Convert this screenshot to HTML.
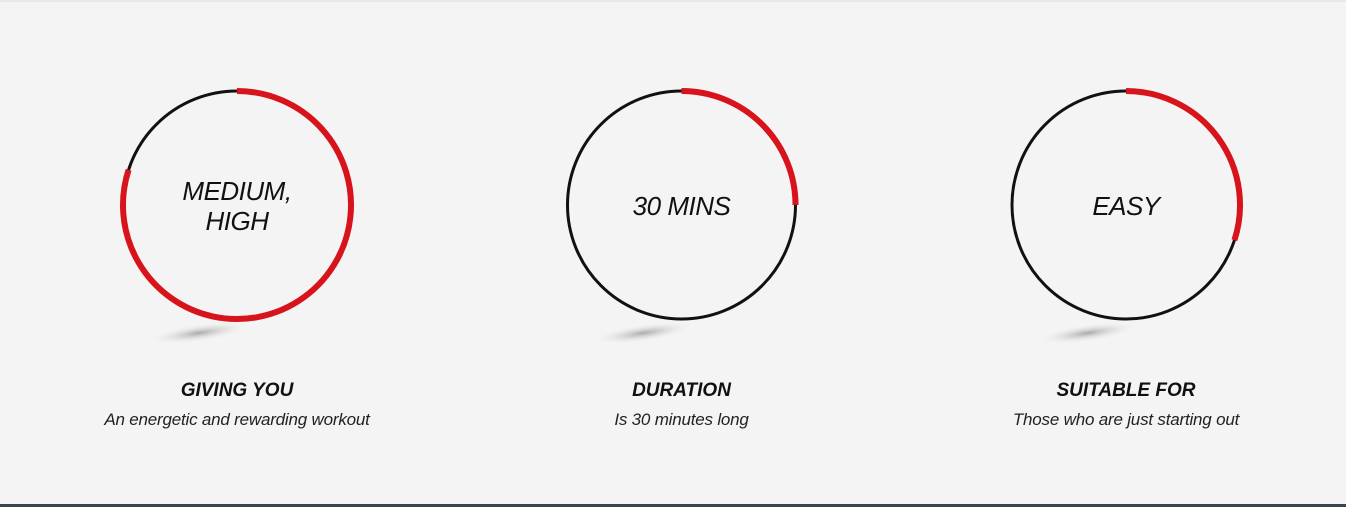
<!DOCTYPE html>
<html><head><meta charset="utf-8">
<style>
body{margin:0;width:1346px;height:507px;background:#f4f4f4;overflow:hidden;font-family:"Liberation Sans",sans-serif}
#wrap{position:relative;width:1346px;height:507px}
.t{position:absolute;text-align:center;font-style:italic;color:#111;width:400px}
.h{font-weight:bold;font-size:19px;top:380px}
.s{font-size:17px;top:410px;color:#222;letter-spacing:-0.2px}
#bar{position:absolute;left:0;bottom:0;width:1346px;height:3px;background:#37474f}
#topl{position:absolute;left:0;top:0;width:1346px;height:2px;background:#e8e8e8}
</style></head><body>
<div id="wrap">
<div id="topl"></div>
<svg id="svg" width="1346" height="507" style="position:absolute;left:0;top:0">
<defs><radialGradient id="sh"><stop offset="0" stop-color="#aaa"/><stop offset="1" stop-color="#f4f4f4" stop-opacity="0"/></radialGradient></defs>
</svg>
<div id="bar"></div>
</div>
<script>
const categories=["GIVING YOU","DURATION","SUITABLE FOR"];
const centerLabels=[["MEDIUM,","HIGH"],["30 MINS"],["EASY"]];
const descriptions=["An energetic and rewarding workout","Is 30 minutes long","Those who are just starting out"];
const values=[0.80,0.25,0.30];
const svg=document.getElementById('svg');const wrap=document.getElementById('wrap');
const NS="http://www.w3.org/2000/svg";
const cx=i=>237+i*444.5, cy=205, R=114;
function pt(f,i){const a=f*2*Math.PI;return [cx(i)+R*Math.sin(a),cy-R*Math.cos(a)];}
values.forEach((v,i)=>{
 const sh=document.createElementNS(NS,'ellipse');
 
 
 sh.setAttribute('cx',cx(i)-38);sh.setAttribute('cy',333);sh.setAttribute('rx',52);sh.setAttribute('ry',9);
 sh.setAttribute('fill','url(#sh)');sh.setAttribute('transform',`rotate(-8 ${cx(i)-38} 333)`);svg.appendChild(sh);
 const c=document.createElementNS(NS,'circle');
 
 
 c.setAttribute('cx',cx(i));c.setAttribute('cy',cy);c.setAttribute('r',R);c.setAttribute('fill','none');c.setAttribute('stroke','#111');c.setAttribute('stroke-width',3);svg.appendChild(c);
 const [x1,y1]=pt(0,i),[x2,y2]=pt(v,i);
 const p=document.createElementNS(NS,'path');
 
 
 p.setAttribute('d',`M${x1} ${y1} A${R} ${R} 0 ${v>0.5?1:0} 1 ${x2} ${y2}`);
 p.setAttribute('fill','none');p.setAttribute('stroke','#d7141c');p.setAttribute('stroke-width',6);svg.appendChild(p);
 const lines=centerLabels[i];
 lines.forEach((l,j)=>{const t=document.createElementNS(NS,'text');
  
  
  t.setAttribute('x',cx(i));t.setAttribute('y',cy+10+(j-(lines.length-1)/2)*30);t.setAttribute('text-anchor','middle');
  t.setAttribute('font-size','26');t.setAttribute('font-style','italic');t.setAttribute('fill','#111');
  t.setAttribute('letter-spacing','-0.5');
  t.setAttribute('font-family','Liberation Sans, sans-serif');t.textContent=l;svg.appendChild(t);});
 const h=document.createElement('div');h.className='t h';h.style.left=(cx(i)-200)+'px';h.textContent=categories[i];
 
 
 wrap.appendChild(h);
 const s=document.createElement('div');s.className='t s';s.style.left=(cx(i)-200)+'px';s.textContent=descriptions[i];
 
 
 wrap.appendChild(s);
});
</script>
</body></html>
